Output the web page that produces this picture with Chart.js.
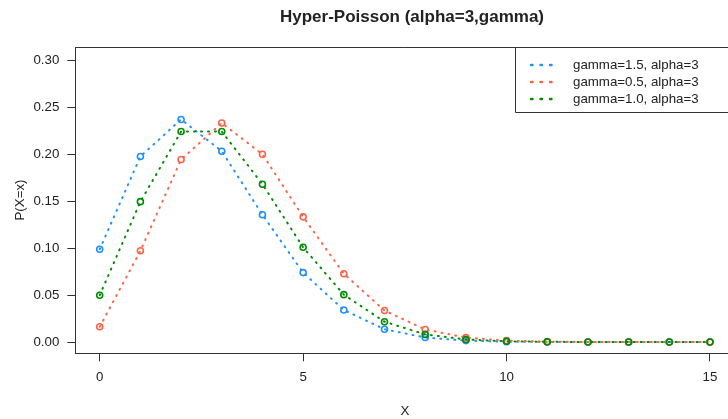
<!DOCTYPE html>
<html>
<head>
<meta charset="utf-8">
<script src="https://cdn.jsdelivr.net/npm/chart.js@4"></script>
<style>
  html, body { margin: 0; padding: 0; overflow: hidden; background: #fff; }
  #chart { display: block; }
</style>
</head>
<body>
<canvas id="chart" width="740" height="419" style="width:740px;height:419px"></canvas>
<script>
const xValues = [0, 1, 2, 3, 4, 5, 6, 7, 8, 9, 10, 11, 12, 13, 14, 15];
const gamma15 = [0.0987, 0.1975, 0.2369, 0.2031, 0.1354, 0.0739, 0.0341, 0.0136, 0.0048, 0.0015, 0.0004, 0.0001, 0.0000, 0.0000, 0.0000, 0.0000];
const gamma05 = [0.0162, 0.0971, 0.1942, 0.2331, 0.1998, 0.1332, 0.0726, 0.0335, 0.0134, 0.0047, 0.0015, 0.0004, 0.0001, 0.0000, 0.0000, 0.0000];
const gamma10 = [0.0498, 0.1494, 0.2240, 0.2240, 0.1680, 0.1008, 0.0504, 0.0216, 0.0081, 0.0027, 0.0008, 0.0002, 0.0001, 0.0000, 0.0000, 0.0000];
const seriesLabels = ["gamma=1.5, alpha=3", "gamma=0.5, alpha=3", "gamma=1.0, alpha=3"];
const xTicks = [0, 5, 10, 15];
const yTicks = [0, 0.05, 0.10, 0.15, 0.20, 0.25, 0.30];

const colors = ["#1E90FF", "#FF6347", "#008B00"];
const FONT = "'Liberation Sans', Arial, sans-serif";
const INK = "#222";

Chart.defaults.font.family = FONT;
Chart.defaults.font.size = 13.3;
Chart.defaults.color = INK;

function makeSeries(label, values, color, order) {
  return {
    label: label,
    data: xValues.map((x, i) => ({ x: x, y: values[i] })),
    borderColor: color,
    backgroundColor: "rgba(0,0,0,0)",
    borderWidth: 2,
    borderDash: [1, 6],
    borderCapStyle: "round",
    tension: 0,
    pointRadius: 3,
    pointBorderWidth: 1.6,
    pointBorderColor: color,
    pointBackgroundColor: "rgba(0,0,0,0)",
    order: order,
  };
}

// titles, legend and the top edge of the box
const rBits = {
  id: "rBits",
  afterDraw(chart) {
    const ctx = chart.ctx;
    const area = chart.chartArea;
    ctx.save();

    ctx.strokeStyle = "#333";
    ctx.lineWidth = 1;
    ctx.beginPath();
    ctx.moveTo(area.left, area.top + 0.5);
    ctx.lineTo(area.right, area.top + 0.5);
    ctx.moveTo(area.right - 0.5, area.top);
    ctx.lineTo(area.right - 0.5, area.bottom);
    ctx.stroke();

    ctx.fillStyle = INK;
    ctx.textAlign = "center";
    ctx.textBaseline = "middle";
    ctx.font = "bold 17px " + FONT;
    ctx.fillText("Hyper-Poisson (alpha=3,gamma)", 412, 17);

    ctx.font = "13.3px " + FONT;
    ctx.fillText("X", 405, 411);

    ctx.save();
    ctx.translate(20, 200);
    ctx.rotate(-Math.PI / 2);
    ctx.fillText("P(X=x)", 0, 0);
    ctx.restore();

    // legend
    const boxLeft = 515.5, boxTop = area.top + 0.5, boxBottom = 112.5;
    ctx.fillStyle = "#fff";
    ctx.fillRect(boxLeft, boxTop, 740 - boxLeft, boxBottom - boxTop);
    ctx.strokeStyle = "#333";
    ctx.beginPath();
    ctx.moveTo(740, boxTop);
    ctx.lineTo(boxLeft, boxTop);
    ctx.lineTo(boxLeft, boxBottom);
    ctx.lineTo(740, boxBottom);
    ctx.stroke();

    ctx.textAlign = "left";
    seriesLabels.forEach((label, i) => {
      const y = 65 + i * 17;
      ctx.strokeStyle = colors[i];
      ctx.lineWidth = 2.4;
      ctx.lineCap = "round";
      ctx.setLineDash([1.5, 8]);
      ctx.beginPath();
      ctx.moveTo(531, y);
      ctx.lineTo(556, y);
      ctx.stroke();
      ctx.setLineDash([]);
      ctx.fillStyle = INK;
      ctx.fillText(label, 573, y);
    });

    ctx.restore();
  },
};

new Chart(document.getElementById("chart"), {
  type: "line",
  data: {
    datasets: [
      makeSeries(seriesLabels[0], gamma15, colors[0], 2),
      makeSeries(seriesLabels[1], gamma05, colors[1], 1),
      makeSeries(seriesLabels[2], gamma10, colors[2], 0),
    ],
  },
  options: {
    responsive: false,
    animation: false,
    layout: { padding: { left: 0, right: 5.4, top: 47, bottom: 0 } },
    plugins: {
      legend: { display: false },
      title: { display: false },
      tooltip: { enabled: false },
    },
    scales: {
      x: {
        type: "linear",
        min: -0.6,
        max: 15.6,
        afterBuildTicks: (s) => { s.ticks = xTicks.map((v) => ({ value: v })); },
        afterFit: (s) => { s.height = 65.7; },
        grid: { drawOnChartArea: false, drawTicks: true, tickLength: 8, color: "#333" },
        border: { display: true, color: "#333", width: 1 },
        ticks: { padding: 8, maxRotation: 0, color: INK, callback: (v) => String(v) },
      },
      y: {
        type: "linear",
        min: -0.012,
        max: 0.314,
        afterBuildTicks: (s) => { s.ticks = yTicks.map((v) => ({ value: v })); },
        afterFit: (s) => { s.width = 75.3; },
        grid: { drawOnChartArea: false, drawTicks: true, tickLength: 8, color: "#333" },
        border: { display: true, color: "#333", width: 1 },
        ticks: { padding: 8, color: INK, callback: (v) => v.toFixed(2) },
      },
    },
  },
  plugins: [rBits],
});
</script>
</body>
</html>
